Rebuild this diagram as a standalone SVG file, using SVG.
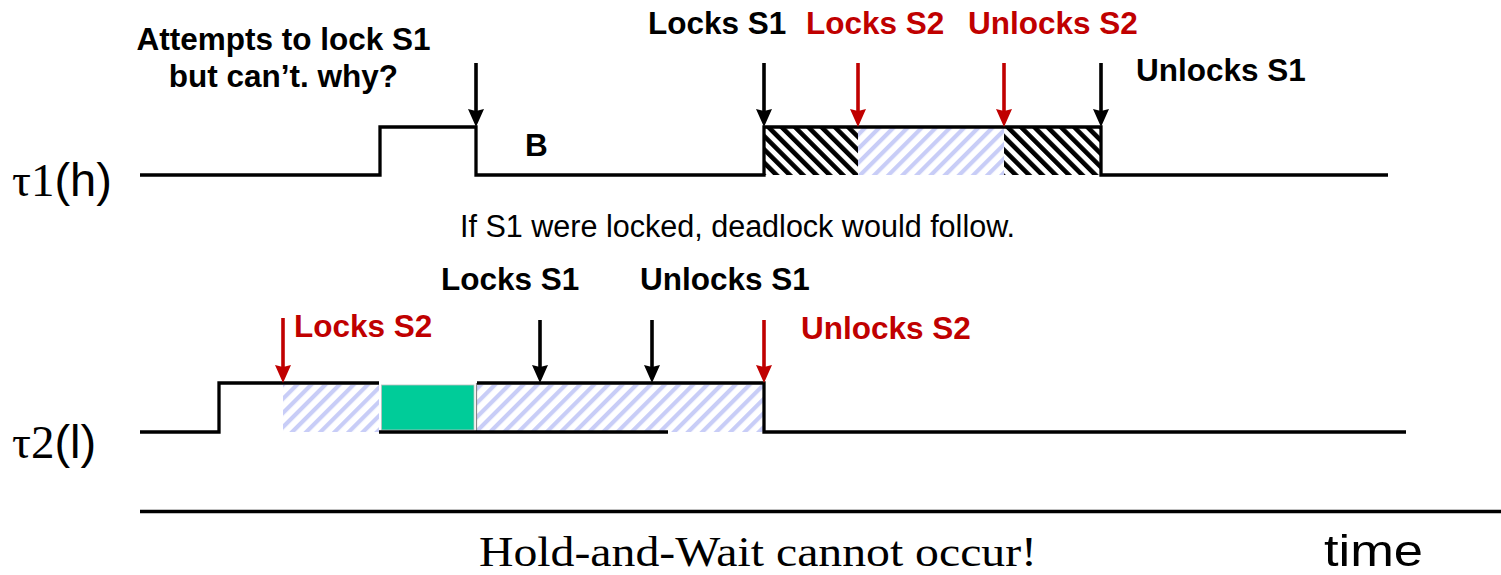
<svg xmlns="http://www.w3.org/2000/svg" width="1501" height="575" viewBox="0 0 1501 575">
<style>
.lbl{font-family:"Liberation Sans",Arial,sans-serif;font-weight:bold;font-size:31.5px;fill:#000}
.red{fill:#C00000}
.tl{fill:none;stroke:#000;stroke-width:3.3;stroke-linejoin:miter}
.arr{stroke:#000;stroke-width:3.6;marker-end:url(#ahk)}
.arr.r{stroke:#C00000;marker-end:url(#ahr)}
.tau{font-family:"Liberation Serif","Times New Roman",serif;font-size:47px;fill:#000}
.tau tspan.s{font-family:"Liberation Sans",Arial,sans-serif}
</style>
<defs>
<pattern id="blk" patternUnits="userSpaceOnUse" width="9.4" height="9.4" patternTransform="rotate(-45)">
<rect width="9.4" height="9.4" fill="#fff"/><rect width="4.6" height="9.4" fill="#000"/>
</pattern>
<pattern id="blu" patternUnits="userSpaceOnUse" width="10" height="10" patternTransform="rotate(45)">
<rect width="10" height="10" fill="#fff"/><rect width="4.2" height="10" fill="#c8cdf7"/>
</pattern>
<marker id="ahk" viewBox="0 0 18 18" refX="6" refY="9" markerWidth="18" markerHeight="18" markerUnits="userSpaceOnUse" orient="auto">
<path d="M0,1 L18,9 L0,17 L2,9 Z" fill="#000"/>
</marker>
<marker id="ahr" viewBox="0 0 18 18" refX="6" refY="9" markerWidth="18" markerHeight="18" markerUnits="userSpaceOnUse" orient="auto">
<path d="M0,1 L18,9 L0,17 L2,9 Z" fill="#C00000"/>
</marker>
</defs>
<rect width="1501" height="575" fill="#fff"/>

<g id="task1">
<rect x="764" y="127" width="94" height="48" fill="url(#blk)"/>
<rect x="858" y="127" width="146" height="48" fill="url(#blu)"/>
<rect x="1004" y="127" width="97" height="48" fill="url(#blk)"/>
<polyline class="tl" points="140,175 380,175 380,127 476,127 476,175 764,175 764,127 1101,127 1101,175 1388,175"/>
<text class="tau" x="12" y="196">τ1<tspan class="s">(h)</tspan></text>
<text class="lbl" x="525" y="156" font-size="33">B</text>
</g>

<g id="task2">
<rect x="283" y="385" width="96" height="47" fill="url(#blu)"/>
<rect x="381.5" y="385" width="92.5" height="45" fill="#00CC99" stroke="#bdbdbd" stroke-width="0.8"/>
<rect x="477" y="385" width="287" height="47" fill="url(#blu)"/>
<line x1="476.5" y1="383" x2="476.5" y2="432" stroke="#888" stroke-width="1.2"/>
<polyline class="tl" points="140,432 219,432 219,383 379,383"/>
<polyline class="tl" points="379,432 668,432"/>
<polyline class="tl" points="477,383 764,383 764,432 1406,432"/>
<text class="tau" x="12" y="458">τ2<tspan class="s">(l)</tspan></text>
</g>

<g id="labels">
<text class="lbl" x="283.5" y="50" text-anchor="middle">Attempts to lock S1</text>
<text class="lbl" x="283.5" y="87" text-anchor="middle">but can’t. why?</text>
<text class="lbl" x="648" y="34">Locks S1</text>
<text class="lbl red" x="806" y="34">Locks S2</text>
<text class="lbl red" x="968" y="34">Unlocks S2</text>
<text class="lbl" x="1136" y="81">Unlocks S1</text>
<text class="lbl red" x="294" y="337">Locks S2</text>
<text class="lbl" x="441" y="290">Locks S1</text>
<text class="lbl" x="640" y="290">Unlocks S1</text>
<text class="lbl red" x="801" y="339">Unlocks S2</text>
<text x="460" y="237" font-family="Liberation Sans,Arial,sans-serif" font-size="31" textLength="555" lengthAdjust="spacingAndGlyphs">If S1 were locked, deadlock would follow.</text>
</g>

<g id="connectors">
<line class="arr" x1="476" y1="63" x2="476" y2="115"/>
<line class="arr" x1="764" y1="63" x2="764" y2="115"/>
<line class="arr r" x1="858" y1="63" x2="858" y2="115"/>
<line class="arr r" x1="1004" y1="63" x2="1004" y2="115"/>
<line class="arr" x1="1101" y1="63" x2="1101" y2="115"/>
<line class="arr r" x1="283" y1="318" x2="283" y2="371"/>
<line class="arr" x1="540" y1="320" x2="540" y2="371"/>
<line class="arr" x1="652" y1="320" x2="652" y2="371"/>
<line class="arr r" x1="764" y1="320" x2="764" y2="371"/>
</g>

<g id="axis">
<line x1="140" y1="511.5" x2="1501" y2="511.5" stroke="#000" stroke-width="3.4"/>
<text x="479" y="566" font-family="Liberation Serif,'Times New Roman',serif" font-size="42" textLength="558" lengthAdjust="spacingAndGlyphs">Hold-and-Wait cannot occur!</text>
<text x="1324" y="566" font-family="Liberation Sans,Arial,sans-serif" font-size="44" textLength="99" lengthAdjust="spacingAndGlyphs">time</text>
</g>
</svg>
